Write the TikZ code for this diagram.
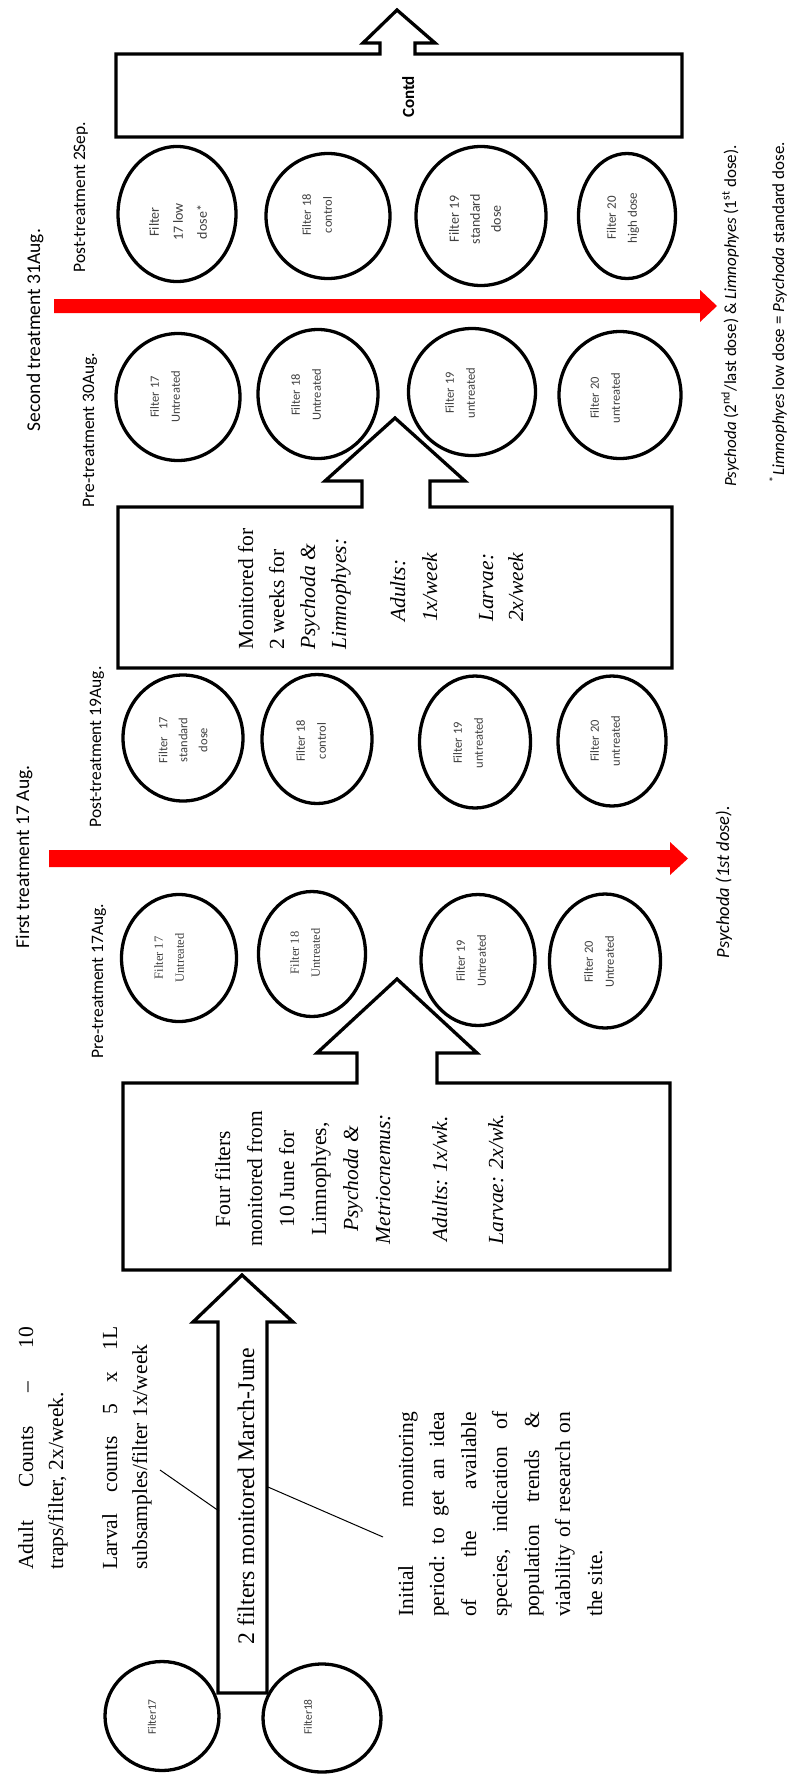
\documentclass[tikz,border=0pt]{standalone}
\usepackage{fontspec}
\setmainfont{Liberation Serif}
\newfontfamily\calib{Carlito}
\usetikzlibrary{shapes.geometric}
\newcommand{\jline}[2]{\hbox to #1{#2}}
\begin{document}
\begin{tikzpicture}[x=1pt,y=-1pt,
  outl/.style={draw=black,line width=3.3pt,line join=miter,miter limit=10},
  ring/.style={ellipse,draw=black,line width=3.3pt,inner sep=0pt},
  ctext/.style={rotate=90,align=center,inner sep=0pt,text=black!75,font=\calib\fontsize{12.5}{21}\selectfont},
  lbl/.style={rotate=90,anchor=base,inner sep=0pt,font=\calib\fontsize{17.5}{21}\selectfont},
  biglbl/.style={rotate=90,anchor=base,inner sep=0pt,font=\calib\fontsize{19.5}{23}\selectfont},
  ln/.style={rotate=90,anchor=base west,inner sep=0pt,font=\fontsize{21.5}{26}\selectfont},
  lnc/.style={rotate=90,anchor=base,inner sep=0pt,font=\fontsize{21.5}{26}\selectfont},
  foot/.style={rotate=90,anchor=base,inner sep=0pt,font=\calib\fontsize{17}{20}\selectfont},
  redarrow/.style={fill=red,draw=none},
  leader/.style={draw=black,line width=1pt}
]
\fill[white] (0,0) rectangle (792,1778);
\useasboundingbox (0,0) rectangle (792,1778);

% ---------- callout boxes with block arrows ----------
\draw[outl] (116,137) -- (116,54) -- (380,54) -- (380,43) -- (363,43) -- (397,10)
  -- (435,43) -- (415,43) -- (415,54) -- (682,54) -- (682,137) -- cycle;
\draw[outl] (118,668) -- (118,507) -- (362,507) -- (362,481) -- (325,481) -- (395,418)
  -- (465,481) -- (430,481) -- (430,507) -- (672,507) -- (672,668) -- cycle;
\draw[outl] (123,1270) -- (123,1083) -- (357,1083) -- (357,1053) -- (317,1053) -- (397,979)
  -- (477,1053) -- (437,1053) -- (437,1083) -- (670,1083) -- (670,1270) -- cycle;
\draw[outl] (218,1693) -- (218,1322) -- (193,1322) -- (242,1275) -- (293,1322)
  -- (267,1322) -- (267,1693) -- cycle;

% ---------- red treatment arrows ----------
\fill[redarrow] (54,299) -- (700,299) -- (700,290) -- (717,306) -- (700,322) -- (700,313) -- (54,313) -- cycle;
\fill[redarrow] (49,850) -- (670,850) -- (670,842) -- (688,858.5) -- (670,875) -- (670,867) -- (49,867) -- cycle;

% ---------- circles: post-treatment 2Sep ----------
\node[ring,minimum width=118,minimum height=135] (s17) at (177,214) {};
\node[ring,minimum width=124,minimum height=125] (s18) at (328,216) {};
\node[ring,minimum width=130,minimum height=139] (s19) at (481,216) {};
\node[ring,minimum width=97,minimum height=125] (s20) at (627,216) {};
\node[ctext,font=\calib\fontsize{14}{24}\selectfont] (s17t) at (178,222) {Filter\\17 low\\dose*};
\node[ctext] (s18t) at (317,215) {Filter 18\\control};
\node[ctext,font=\calib\fontsize{14}{21}\selectfont] (s19t) at (475,219) {Filter 19\\standard\\dose};
\node[ctext,font=\calib\fontsize{13}{21}\selectfont] (s20t) at (623,218) {Filter 20\\high dose};

% ---------- circles: pre-treatment 30Aug ----------
\node[ring,minimum width=124,minimum height=127] (q17) at (178,397) {};
\node[ring,minimum width=120,minimum height=129] (q18) at (318,394) {};
\node[ring,minimum width=127,minimum height=127] (q19) at (472,392) {};
\node[ring,minimum width=122,minimum height=127] (q20) at (620,395) {};
\node[ctext] (q17t) at (165,397) {Filter 17\\Untreated};
\node[ctext] (q18t) at (306,395) {Filter 18\\Untreated};
\node[ctext] (q19t) at (460,393) {Filter 19\\untreated};
\node[ctext] (q20t) at (605,398) {Filter 20\\untreated};

% ---------- circles: post-treatment 19Aug ----------
\node[ring,minimum width=120,minimum height=126] (r17) at (183,738) {};
\node[ring,minimum width=110,minimum height=129] (r18) at (317,739) {};
\node[ring,minimum width=111,minimum height=132] (r19) at (475,742) {};
\node[ring,minimum width=108,minimum height=130] (r20) at (612,741) {};
\node[ctext,font=\calib\fontsize{12.5}{20}\selectfont] (r17t) at (183,740) {Filter\hspace{0.6em}17\\standard\\dose};
\node[ctext] (r18t) at (311,741) {Filter 18\\control};
\node[ctext] (r19t) at (468,743) {Filter 19\\untreated};
\node[ctext] (r20t) at (605,741) {Filter 20\\untreated};

% ---------- circles: pre-treatment 17Aug ----------
\node[ring,minimum width=115,minimum height=127] (t17) at (179,958) {};
\node[ring,minimum width=107,minimum height=125] (t18) at (312,954) {};
\node[ring,minimum width=114,minimum height=131] (t19) at (478,960) {};
\node[ring,minimum width=111,minimum height=134] (t20) at (605,961) {};
\node[ctext,font=\rmfamily\fontsize{12.5}{21}\selectfont] (t17t) at (169,958) {Filter 17\\Untreated};
\node[ctext,font=\rmfamily\fontsize{12.5}{21}\selectfont] (t18t) at (305,953) {Filter 18\\Untreated};
\node[ctext] (t19t) at (471,961) {Filter 19\\Untreated};
\node[ctext] (t20t) at (599,962) {Filter 20\\Untreated};

% ---------- initial two filters ----------
\node[ring,minimum width=114,minimum height=109] (f17) at (162,1716) {};
\node[ring,minimum width=118,minimum height=108] (f18) at (322,1718) {};
\node[ctext,font=\calib\fontsize{11.5}{14}\selectfont] (f17t) at (152,1717) {Filter17};
\node[ctext,font=\calib\fontsize{11.5}{14}\selectfont] (f18t) at (308,1717) {Filter18};

% ---------- column labels ----------
\node[biglbl] (second) at (40,330) {Second treatment 31Aug.};
\node[biglbl] (first) at (29,857) {First treatment 17 Aug.};
\node[lbl] (post2) at (85,197) {Post-treatment 2Sep.};
\node[lbl] (pre30) at (94,430) {Pre-treatment 30Aug.};
\node[lbl] (post19) at (101,747) {Post-treatment 19Aug.};
\node[lbl] (pre17) at (103,981) {Pre-treatment 17Aug.};

% ---------- box texts ----------
\node[rotate=90,anchor=base,inner sep=0pt,font=\calib\bfseries\fontsize{17}{20}\selectfont] (contd) at (414,97) {Contd};

% box 2 (monitored for 2 weeks)
\node[ln] (m1) at (253,650) {Monitored for};
\node[ln] (m2) at (284,650) {2 weeks for};
\node[ln] (m3) at (315,650) {\textit{Psychoda \&}};
\node[ln] (m4) at (346,650) {\textit{Limnophyes:}};
\node[ln] (m5) at (405,622) {\textit{Adults:}};
\node[ln] (m6) at (437,622) {\textit{1x/week}};
\node[ln] (m7) at (493,622) {\textit{Larvae:}};
\node[ln] (m8) at (523,622) {\textit{2x/week}};

% box 3 (four filters)
\node[lnc] (b1) at (230,1179) {Four filters};
\node[lnc] (b2) at (262,1179) {monitored from};
\node[lnc] (b3) at (294,1179) {10 June for};
\node[lnc] (b4) at (326,1179) {Limnophyes,};
\node[lnc] (b5) at (358,1179) {\textit{Psychoda \&}};
\node[lnc] (b6) at (390,1179) {\textit{Metriocnemus:}};
\node[lnc] (b7) at (447,1179) {\textit{Adults: 1x/wk.}};
\node[lnc] (b8) at (503,1179) {\textit{Larvae: 2x/wk.}};

\node[lnc,font=\fontsize{23.8}{28}\selectfont] (mj) at (254,1496) {2 filters monitored March-June};

% ---------- left notes ----------
\node[ln] (a1) at (33,1570) {\jline{243pt}{Adult\hfill Counts\hfill –\hfill 10}};
\node[ln] (a2) at (63,1570) {traps/filter, 2x/week.};
\node[ln] (v1) at (117,1570) {\jline{243pt}{Larval\hfill counts\hfill 5\hfill x\hfill 1L}};
\node[ln] (v2) at (147,1570) {subsamples/filter 1x/week};

\node[ln] (i1) at (413,1617) {\jline{205pt}{Initial\hfill monitoring}};
\node[ln] (i2) at (444,1617) {\jline{205pt}{period:\hfill to\hfill get\hfill an\hfill idea}};
\node[ln] (i3) at (476,1617) {\jline{205pt}{of\hfill the\hfill available}};
\node[ln] (i4) at (507,1617) {\jline{205pt}{species,\hfill indication\hfill of}};
\node[ln] (i5) at (539,1617) {\jline{205pt}{population\hfill trends\hfill \&}};
\node[ln] (i6) at (570,1617) {\jline{205pt}{viability\hfill of\hfill research\hfill on}};
\node[ln] (i7) at (602,1617) {the site.};

\coordinate (l1a) at (160,1470);
\coordinate (l1b) at (219,1511);
\coordinate (l2a) at (268,1487);
\coordinate (l2b) at (383,1537);
\draw[leader] (l1a) -- (l1b);
\draw[leader] (l2a) -- (l2b);

% ---------- footnotes ----------
\node[foot] (fn2) at (736,316) {\textit{Psychoda} (2\textsuperscript{nd}/last dose) \& \textit{Limnophyes} (1\textsuperscript{st} dose).};
\node[foot] (fn3) at (784,312) {\textsuperscript{*}\textit{Limnophyes} low dose = \textit{Psychoda} standard dose.};
\node[foot,font=\calib\fontsize{18.5}{22}\selectfont] (fn1) at (729,882) {\textit{Psychoda (1st dose).}};
\end{tikzpicture}
\end{document}
